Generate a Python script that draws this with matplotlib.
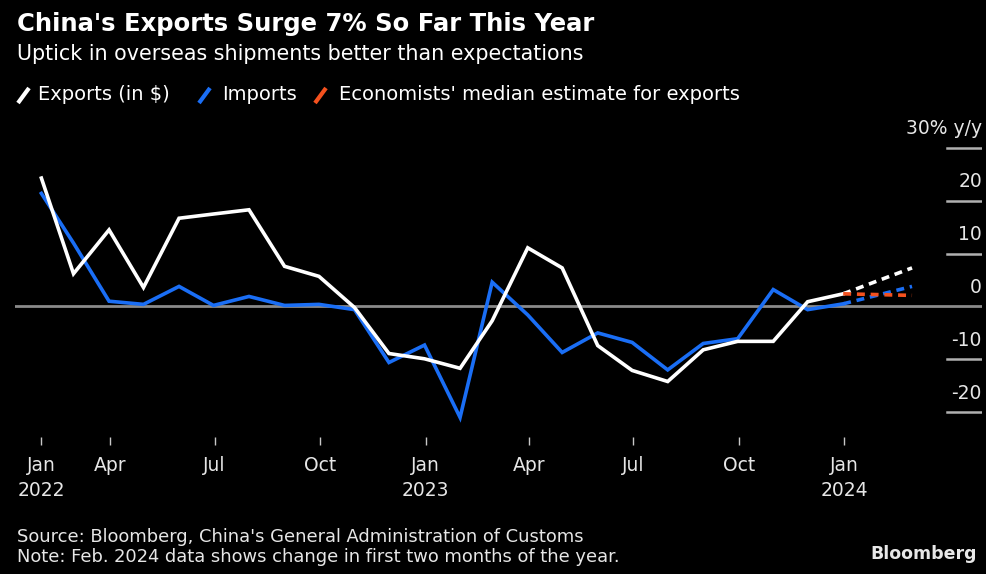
import matplotlib
matplotlib.use("Agg")
import matplotlib.pyplot as plt
import matplotlib.dates as mdates
from matplotlib.lines import Line2D
import pandas as pd
import numpy as np

# ---- data (y/y %, month-end dates) ----
months = pd.date_range("2022-01-31", "2023-12-31", freq="ME")
exports = [24.3, 6.2, 14.5, 3.6, 16.7, 17.5, 18.3, 7.6, 5.7, -0.2, -8.9, -9.9,
           -11.7, -2.7, 11.1, 7.3, -7.4, -12.1, -14.2, -8.2, -6.6, -6.6, 0.9, 2.4]
imports = [21.4, 12.0, 1.0, 0.4, 3.8, 0.2, 1.9, 0.2, 0.4, -0.6, -10.6, -7.3,
           -21.0, 4.6, -1.6, -8.7, -5.0, -6.8, -12.0, -7.0, -6.1, 3.2, -0.6, 0.5]
latest_date = pd.Timestamp("2024-02-29")
exports_latest = 7.3
imports_latest = 3.8
estimate_latest = 2.1

tick_dates = ["2022-01-31", "2022-04-01", "2022-07-01", "2022-10-01", "2023-01-01",
              "2023-04-01", "2023-07-01", "2023-10-01", "2024-01-01"]
tick_labels = ["Jan\n2022", "Apr", "Jul", "Oct", "Jan\n2023", "Apr", "Jul", "Oct", "Jan\n2024"]
y_ticks = [20, 10, 0, -10, -20]
y_top = 30

# ---- style ----
BG = "#000000"
WHITE = "#ffffff"
BLUE = "#1a6ef5"
ORANGE = "#f4511e"
GRAY = "#8a8a8a"
TXT = "#e6e6e6"

W, H = 986, 574
fig = plt.figure(figsize=(W / 100, H / 100), dpi=100, facecolor=BG)
ax_l, ax_r, ax_t, ax_b = 15, 982, 130, 437
ax = fig.add_axes([ax_l / W, 1 - ax_b / H, (ax_r - ax_l) / W, (ax_b - ax_t) / H])
ax.set_facecolor(BG)

ax.set_xlim(pd.Timestamp("2022-01-08"), pd.Timestamp("2024-04-30"))
ax.set_ylim(-24.7, 33.4)

for s in ax.spines.values():
    s.set_visible(False)

# zero line across, other gridlines only under labels
ax.axhline(0, color=GRAY, lw=2, zorder=1)
frac0 = (947 - ax_l) / (ax_r - ax_l)
for v in y_ticks + [y_top]:
    if v != 0:
        ax.axhline(v, xmin=frac0, xmax=1, color="#b0b0b0", lw=1.8, zorder=1)
    lab = f"{v}" if v != y_top else f"{v}% y/y"
    ax.annotate(lab, xy=(1, v), xycoords=("axes fraction", "data"),
                xytext=(0, 19), textcoords="offset pixels",
                ha="right", va="center", color=TXT, fontsize=13.5,
                annotation_clip=False)

ax.set_yticks([])
ax.set_xticks(pd.to_datetime(tick_dates))
ax.set_xticklabels(tick_labels, fontsize=13.5, color=TXT, linespacing=1.4)
ax.tick_params(axis="x", colors="#c8c8c8", length=6, width=1, direction="out", pad=8,
               labelcolor=TXT)

# lines
ax.plot(months, exports, color=WHITE, lw=2.6, zorder=4, solid_joinstyle="miter")
ax.plot(months, imports, color=BLUE, lw=2.6, zorder=3, solid_joinstyle="miter")
dash = (2.2, 1.6)
ax.plot([months[-1], latest_date], [exports[-1], exports_latest], color=WHITE, lw=2.6,
        ls=(0, dash), zorder=4)
ax.plot([months[-1], latest_date], [imports[-1], imports_latest], color=BLUE, lw=2.6,
        ls=(0, dash), zorder=3)
ax.plot([months[-1], latest_date], [exports[-1], estimate_latest], color=ORANGE, lw=2.6,
        ls=(0, dash), zorder=5)

# ---- titles ----
fig.text(17 / W, 1 - 24 / H, "China's Exports Surge 7% So Far This Year", color=WHITE,
         fontsize=17.5, fontweight="bold", ha="left", va="center")
fig.text(17 / W, 1 - 54 / H, "Uptick in overseas shipments better than expectations",
         color=WHITE, fontsize=14.9, ha="left", va="center")

# legend
leg_y = 95
items = [(18, 38, WHITE, "Exports (in $)"), (199, 222, BLUE, "Imports"),
         (315, 339, ORANGE, "Economists' median estimate for exports")]
for x0, xt, c, t in items:
    fig.add_artist(Line2D([x0 / W, (x0 + 11) / W], [1 - (leg_y + 8) / H, 1 - (leg_y - 7) / H],
                          color=c, lw=3, solid_capstyle="butt"))
    fig.text(xt / W, 1 - leg_y / H, t, color=WHITE, fontsize=14, ha="left", va="center")

# footer
fig.text(17 / W, 1 - 537 / H, "Source: Bloomberg, China's General Administration of Customs",
         color=TXT, fontsize=12.9, ha="left", va="center")
fig.text(17 / W, 1 - 557 / H, "Note: Feb. 2024 data shows change in first two months of the year.",
         color=TXT, fontsize=12.9, ha="left", va="center")
fig.text(977 / W, 1 - 554 / H, "Bloomberg", color="#e8e8e8", fontsize=12.5,
         fontweight="bold", ha="right", va="center")

fig.savefig("out.png", dpi=100, facecolor=BG)
